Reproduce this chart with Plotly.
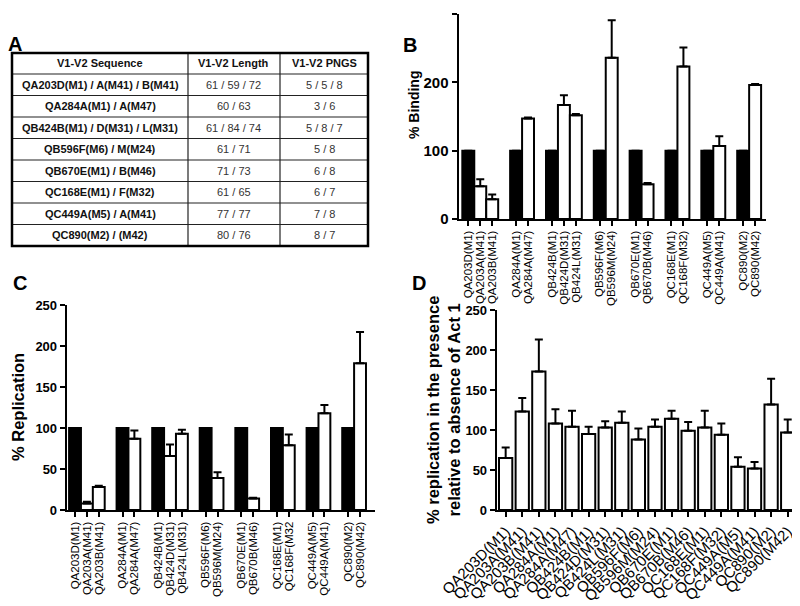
import plotly.graph_objects as go

# ---------------- data ----------------
table_header = ["V1-V2 Sequence", "V1-V2 Length", "V1-V2 PNGS"]
table_sequence = ["QA203D(M1) / A(M41) / B(M41)", "QA284A(M1) / A(M47)", "QB424B(M1) / D(M31) / L(M31)",
                  "QB596F(M6) / M(M24)", "QB670E(M1) / B(M46)", "QC168E(M1) / F(M32)",
                  "QC449A(M5) / A(M41)", "QC890(M2) / (M42)"]
table_length = ["61 / 59 / 72", "60 / 63", "61 / 84 / 74", "61 / 71", "71 / 73", "61 / 65", "77 / 77", "80 / 76"]
table_pngs = ["5 / 5 / 8", "3 / 6", "5 / 8 / 7", "5 / 8", "6 / 8", "6 / 7", "7 / 8", "8 / 7"]

group_sizes = [3, 2, 3, 2, 2, 2, 2, 2]
variants = ["QA203D(M1)", "QA203A(M41)", "QA203B(M41)", "QA284A(M1)", "QA284A(M47)",
            "QB424B(M1)", "QB424D(M31)", "QB424L(M31)", "QB596F(M6)", "QB596M(M24)",
            "QB670E(M1)", "QB670B(M46)", "QC168E(M1)", "QC168F(M32)", "QC449A(M5)",
            "QC449A(M41)", "QC890(M2)", "QC890(M42)"]
variants_c = ["QA203D(M1)", "QA203A(M41)", "QA203B(M41)", "QA284A(M1)", "QA284A(M47)",
              "QB424B(M1)", "QB424D(M31)", "QB424L(M31)", "QB596F(M6)", "QB596M(M24)",
              "QB670E(M1)", "QB670B(M46)", "QC168E(M1)", "QC168F(M32", "QC449A(M5)",
              "QC449A(M41)", "QC890(M2)", "QC890(M42)"]

binding = [100, 48, 29, 100, 147, 100, 167, 152, 100, 236, 100, 51, 100, 223, 100, 107, 100, 196]
binding_err = [0, 10, 7, 0, 1.5, 0, 14, 1.5, 0, 55, 0, 1.5, 0, 28, 0, 14, 0, 1.5]

replication = [100, 8, 28, 100, 87, 100, 66, 93, 100, 39, 100, 14, 100, 79, 100, 118, 100, 179]
replication_err = [0, 2, 1.5, 0, 10, 0, 14, 5, 0, 7, 0, 1, 0, 13, 0, 10, 0, 38]

act1_rel = [65, 123, 173, 108, 104, 95, 103, 109, 88, 104, 114, 99, 103, 94, 54, 52, 132, 97]
act1_err = [13, 17, 40, 18, 20, 9, 8, 14, 14, 9, 10, 11, 21, 14, 12, 8, 32, 16]

# ---------------- helpers ----------------
W, H = 800, 606
OFF = 8  # page body margin of the browser
FONT = "Liberation Sans"


def px(x):
    return (x - OFF) / W


def py(y):
    return 1 - (y - OFF) / H


# grouped slot positions (one empty slot between groups)
pos = []
first_in_group = []
s = 0
for g in group_sizes:
    for j in range(g):
        pos.append(s + j)
        first_in_group.append(j == 0)
    s += g + 1
bar_colors = ["black" if f else "white" for f in first_in_group]

fig = go.Figure()

axis_common = dict(showline=True, linewidth=2, linecolor="black", showgrid=False, zeroline=False,
                   ticks="outside", tickcolor="black", tickwidth=2, ticklen=5, automargin=False)

# ---------------- panel B ----------------
fig.add_trace(go.Bar(
    x=pos, y=binding, width=1.0, xaxis="x", yaxis="y",
    marker=dict(color=bar_colors, line=dict(color="black", width=2)),
    error_y=dict(type="data", symmetric=False, array=binding_err, arrayminus=[0] * len(binding_err),
                 color="black", thickness=2, width=4),
))
# ---------------- panel C ----------------
fig.add_trace(go.Bar(
    x=pos, y=replication, width=1.0, xaxis="x2", yaxis="y2",
    marker=dict(color=bar_colors, line=dict(color="black", width=2)),
    error_y=dict(type="data", symmetric=False, array=replication_err, arrayminus=[0] * len(replication_err),
                 color="black", thickness=2, width=4),
))
# ---------------- panel D ----------------
idx = list(range(len(variants)))
fig.add_trace(go.Bar(
    x=idx, y=act1_rel, width=0.8, xaxis="x3", yaxis="y3",
    marker=dict(color="white", line=dict(color="black", width=2)),
    error_y=dict(type="data", symmetric=False, array=act1_err, arrayminus=[0] * len(act1_err),
                 color="black", thickness=2, width=4),
))

fig.update_layout(
    width=W, height=H, margin=dict(l=0, r=0, t=0, b=0, autoexpand=False),
    paper_bgcolor="white", plot_bgcolor="white", showlegend=False,
    font=dict(family=FONT, color="black"),
    xaxis=dict(domain=[px(458.5), px(766)], range=[-0.82, 24.91], tickvals=pos, ticktext=variants,
               tickangle=-90, tickfont=dict(family=FONT, size=11.5), anchor="y", **axis_common),
    yaxis=dict(domain=[py(219), py(14)], range=[0, 300], tickvals=[0, 100, 200, 300],
               tickfont=dict(family=FONT, size=15, weight="bold"), anchor="x", **axis_common),
    xaxis2=dict(domain=[px(66.7), px(375)], range=[-0.70, 25.26], tickvals=pos, ticktext=variants_c,
                tickangle=-90, tickfont=dict(family=FONT, size=11.5), anchor="y2", **axis_common),
    yaxis2=dict(domain=[py(510), py(305)], range=[0, 250], tickvals=[0, 50, 100, 150, 200, 250],
                tickfont=dict(family=FONT, size=13, weight="bold"), anchor="x2", **axis_common),
    xaxis3=dict(domain=[px(496.7), px(797)], range=[-0.54, 17.56], tickvals=idx, ticktext=variants,
                tickangle=-45, tickfont=dict(family=FONT, size=15), anchor="y3", **axis_common),
    yaxis3=dict(domain=[py(510), py(310)], range=[0, 250], tickvals=[0, 50, 100, 150, 200, 250],
                tickfont=dict(family=FONT, size=13, weight="bold"), anchor="x3", **axis_common),
)

ann = []
shapes = []

# ---------------- panel A table (drawn with shapes and text) ----------------
tab_left, tab_right, tab_top = 12, 368, 53
col_edges = [tab_left, 188, 280, tab_right]
header_h, row_h = 21, 21.5
n_rows = len(table_sequence)
row_edges = [tab_top, tab_top + header_h] + [tab_top + header_h + row_h * (i + 1) for i in range(n_rows)]
tab_bottom = row_edges[-1]
columns = [table_sequence, table_length, table_pngs]
for c in range(3):
    xc = (col_edges[c] + col_edges[c + 1]) / 2
    ann.append(dict(text="<b>%s</b>" % table_header[c], x=px(xc), y=py((row_edges[0] + row_edges[1]) / 2),
                    xref="paper", yref="paper", showarrow=False, xanchor="center", yanchor="middle",
                    font=dict(family=FONT, size=11, color="#111")))
    for r in range(n_rows):
        txt = columns[c][r]
        if c == 0:
            txt = "<b>%s</b>" % txt
        ann.append(dict(text=txt, x=px(xc), y=py((row_edges[r + 1] + row_edges[r + 2]) / 2),
                        xref="paper", yref="paper", showarrow=False, xanchor="center", yanchor="middle",
                        font=dict(family=FONT, size=11, color="#111" if c == 0 else "#333")))
for yv in row_edges[1:-1]:
    shapes.append(dict(type="line", xref="paper", yref="paper", x0=px(tab_left), x1=px(tab_right),
                       y0=py(yv), y1=py(yv), line=dict(color="#222", width=1.2)))
for xv in col_edges[1:-1]:
    shapes.append(dict(type="line", xref="paper", yref="paper", x0=px(xv), x1=px(xv),
                       y0=py(tab_top), y1=py(tab_bottom), line=dict(color="#222", width=1.2)))
shapes.append(dict(type="rect", xref="paper", yref="paper", x0=px(tab_left), x1=px(tab_right),
                   y0=py(tab_bottom), y1=py(tab_top), line=dict(color="black", width=2.5)))

# ---------------- panel letters and axis titles ----------------
for letter, x, y in [("A", 15, 44), ("B", 410, 45), ("C", 20, 283), ("D", 419, 283)]:
    ann.append(dict(text="<b>%s</b>" % letter, x=px(x), y=py(y), xref="paper", yref="paper",
                    showarrow=False, xanchor="center", yanchor="middle",
                    font=dict(family=FONT, size=20, color="black")))
ann.append(dict(text="<b>% Binding</b>", x=px(414), y=py(105), xref="paper", yref="paper", textangle=-90,
                showarrow=False, xanchor="center", yanchor="middle", font=dict(family=FONT, size=14)))
ann.append(dict(text="<b>% Replication</b>", x=px(18), y=py(407), xref="paper", yref="paper", textangle=-90,
                showarrow=False, xanchor="center", yanchor="middle", font=dict(family=FONT, size=16.5)))
ann.append(dict(text="<b>% replication in the presence<br>relative to absence of Act 1</b>",
                x=px(443), y=py(410), xref="paper", yref="paper", textangle=-90,
                showarrow=False, xanchor="center", yanchor="middle", font=dict(family=FONT, size=16.5)))

fig.update_layout(annotations=ann, shapes=shapes)

fig.write_html("out.html")
